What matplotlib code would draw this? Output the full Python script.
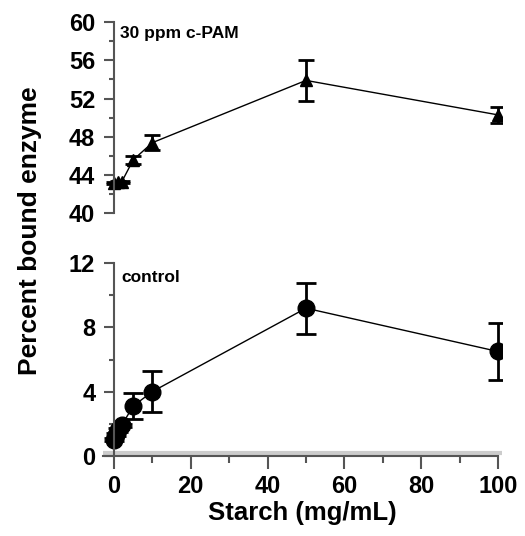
import numpy as np
import matplotlib
matplotlib.use("Agg")
import matplotlib.pyplot as plt
from matplotlib.ticker import MultipleLocator

plt.rcParams['font.family'] = ['Liberation Sans', 'DejaVu Sans']
plt.rcParams['font.weight'] = 'bold'

# c-PAM (top panel)
x_pam = [0, 1, 2, 5, 10, 50, 100]
y_pam = [43.2, 43.3, 43.3, 45.6, 47.4, 53.9, 50.3]
e_pam = [0.1, 0.1, 0.1, 0.4, 0.8, 2.1, 0.8]

# control (bottom panel)
x_ctl = [0.1, 0.5, 1, 2, 5, 10, 50, 100]
y_ctl = [1.0, 1.3, 1.6, 1.9, 3.1, 4.0, 9.2, 6.5]
e_ctl = [0.1, 0.1, 0.1, 0.1, 0.8, 1.3, 1.6, 1.75]

W, H = 525, 536
fig = plt.figure(figsize=(W / 100, H / 100), dpi=100)

left = 102.5 / W
width = (501.8 - 102.5) / W
ax1 = fig.add_axes([left, (H - 213.5) / H, width, 191.5 / H])
ax2 = fig.add_axes([left, (H - 455.7) / H, width, 192.4 / H])

spc = '#555555'
for ax in (ax1, ax2):
    ax.set_xlim(-3, 101)
    ax.spines['top'].set_visible(False)
    ax.spines['right'].set_visible(False)
    ax.spines['left'].set_position(('data', 0))
    ax.spines['left'].set_color(spc)
    ax.spines['left'].set_linewidth(1.5)
    ax.spines['bottom'].set_color(spc)
    ax.spines['bottom'].set_linewidth(1.5)
    ax.tick_params(which='major', direction='out', length=7.5, width=1.5,
                   color=spc, labelsize=17, pad=6)
    ax.tick_params(which='minor', direction='out', length=3.5, width=1.5,
                   color=spc)
    ax.patch.set_alpha(0)

# top
ax1.errorbar(x_pam, y_pam, yerr=e_pam, color='black', marker='^', ms=9,
             lw=1.0, elinewidth=2, capsize=6, capthick=2)
ax1.set_ylim(40, 60)
ax1.yaxis.set_major_locator(MultipleLocator(4))
ax1.yaxis.set_minor_locator(MultipleLocator(2))
ax1.spines['bottom'].set_visible(False)
ax1.tick_params(axis='x', which='both', bottom=False, labelbottom=False)
ax1.text(1.5, 58.8, '30 ppm c-PAM', fontsize=12.5, va='center', ha='left')

# bottom
ax2.axhline(0.15, color='#cccccc', lw=3, zorder=0)
ax2.errorbar(x_ctl, y_ctl, yerr=e_ctl, color='black', marker='o', ms=12,
             lw=1.0, elinewidth=2, capsize=7, capthick=2)
ax2.set_ylim(0, 12)
ax2.spines['bottom'].set_bounds(-3, 100)
ax2.yaxis.set_major_locator(MultipleLocator(4))
ax2.yaxis.set_minor_locator(MultipleLocator(2))
ax2.set_xticks([0, 20, 40, 60, 80, 100])
ax2.xaxis.set_minor_locator(MultipleLocator(10))
ax2.tick_params(axis='x', which='major', length=9, pad=5)
ax2.tick_params(axis='x', which='minor', length=5)
ax2.text(2, 11.1, 'control', fontsize=12.5, va='center', ha='left')
ax2.set_xlabel('Starch (mg/mL)', fontsize=18.5, fontweight='bold', labelpad=2)

fig.text(0.057, 0.569, 'Percent bound enzyme', rotation=90, fontsize=19,
         fontweight='bold', ha='center', va='center')

fig.savefig('out.png', dpi=100)
